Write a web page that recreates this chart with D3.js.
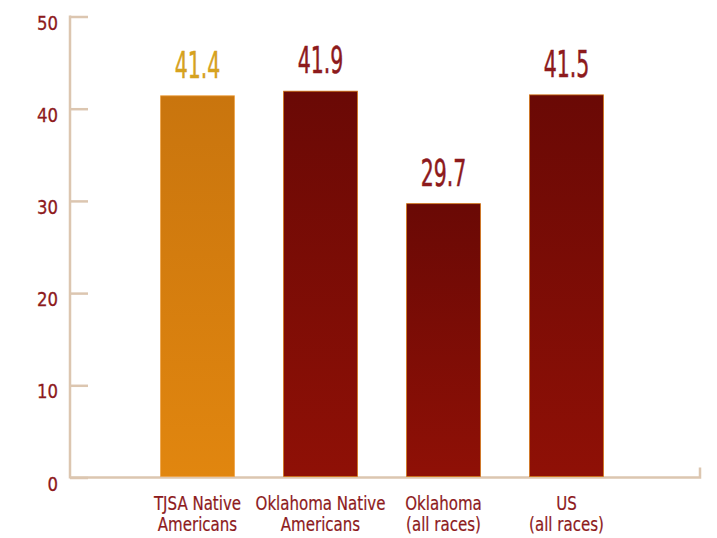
<!DOCTYPE html>
<html>
<head>
<meta charset="utf-8">
<script src="https://cdn.jsdelivr.net/npm/d3@7"></script>
<style>
  html, body { margin: 0; padding: 0; background: #ffffff; }
  svg { display: block; }
  text { font-family: "DejaVu Sans Condensed", "DejaVu Sans", sans-serif; }
</style>
</head>
<body>
<svg id="chart" width="717" height="538"></svg>
<script>
// Data
const categories = ["TJSA Native|Americans", "Oklahoma Native|Americans", "Oklahoma|(all races)", "US|(all races)"];
const values = [41.4, 41.9, 29.7, 41.5];
const highlight = [true, false, false, false];
const yTicks = [0, 10, 20, 30, 40, 50];

const W = 717, H = 538;
const svg = d3.select("#chart");

const x = d3.scaleBand().domain(d3.range(categories.length)).range([136, 628]).paddingInner(0.4).paddingOuter(0.2);
const y = d3.scaleLinear().domain([0, 50]).range([477.5, 16.5]);

const axisColor = "#dcc6b0";
const labelRed = "#8d1a1c";

// Gradients for bar fills
const defs = svg.append("defs");
const gOrange = defs.append("linearGradient").attr("id", "gOrange").attr("x1", 0).attr("y1", 0).attr("x2", 0).attr("y2", 1);
gOrange.append("stop").attr("offset", "0%").attr("stop-color", "#c9750e");
gOrange.append("stop").attr("offset", "100%").attr("stop-color", "#e1860f");
const gRed = defs.append("linearGradient").attr("id", "gRed").attr("x1", 0).attr("y1", 0).attr("x2", 0).attr("y2", 1);
gRed.append("stop").attr("offset", "0%").attr("stop-color", "#6a0905");
gRed.append("stop").attr("offset", "100%").attr("stop-color", "#8f1006");

// Y axis with inward ticks
const yAxis = d3.axisRight(y).tickValues(yTicks).tickSize(18).tickFormat("");
const ya = svg.append("g").attr("transform", "translate(70,0)").call(yAxis);
ya.select(".domain").remove();
ya.selectAll(".tick line").attr("stroke", axisColor).attr("stroke-width", 2.5);
svg.append("line").attr("x1", 70).attr("x2", 70).attr("y1", y(50) - 1).attr("y2", y(0) + 1)
  .attr("stroke", axisColor).attr("stroke-width", 2.5);

// Tick labels (condensed)
svg.append("g").selectAll("text").data(yTicks).join("text")
  .attr("transform", d => `translate(58,${y(d) + 13}) scale(0.92,1)`)
  .attr("text-anchor", "end")
  .attr("fill", labelRed)
  .attr("stroke", labelRed).attr("stroke-width", 0.3)
  .attr("font-size", 20)
  .text(d => d);

// Baseline with small end tick
svg.append("path")
  .attr("d", `M70,${y(0)}H700V${y(0) - 10}`)
  .attr("fill", "none").attr("stroke", axisColor).attr("stroke-width", 2.5);

// Bars
svg.append("g").selectAll("rect").data(values).join("rect")
  .attr("x", (d, i) => x(i))
  .attr("width", x.bandwidth())
  .attr("y", d => y(d))
  .attr("height", d => y(0) - y(d) - 1)
  .attr("fill", (d, i) => highlight[i] ? "url(#gOrange)" : "url(#gRed)")
  .attr("stroke", (d, i) => highlight[i] ? "#eea040" : "#d0700f")
  .attr("stroke-width", 0.8);

// Value labels (tall, narrow figures)
svg.append("g").selectAll("text").data(values).join("text")
  .attr("transform", (d, i) => `translate(${x(i) + x.bandwidth() / 2},${y(d) - 18}) scale(0.6,1)`)
  .attr("text-anchor", "middle")
  .attr("fill", (d, i) => highlight[i] ? "#d6a21f" : labelRed)
  .attr("stroke", (d, i) => highlight[i] ? "#d6a21f" : labelRed)
  .attr("stroke-width", 0.5)
  .attr("font-size", 38)
  .text(d => d.toFixed(1));

// Category labels
const cat = svg.append("g").selectAll("text").data(categories).join("text")
  .attr("transform", (d, i) => `translate(${x(i) + x.bandwidth() / 2},510) scale(0.88,1)`)
  .attr("text-anchor", "middle")
  .attr("fill", labelRed)
  .attr("stroke", labelRed).attr("stroke-width", 0.2)
  .attr("font-size", 19);
cat.selectAll("tspan").data(d => d.split("|")).join("tspan")
  .attr("x", 0)
  .attr("dy", (d, j) => j === 0 ? 0 : 21)
  .text(d => d);
</script>
</body>
</html>
